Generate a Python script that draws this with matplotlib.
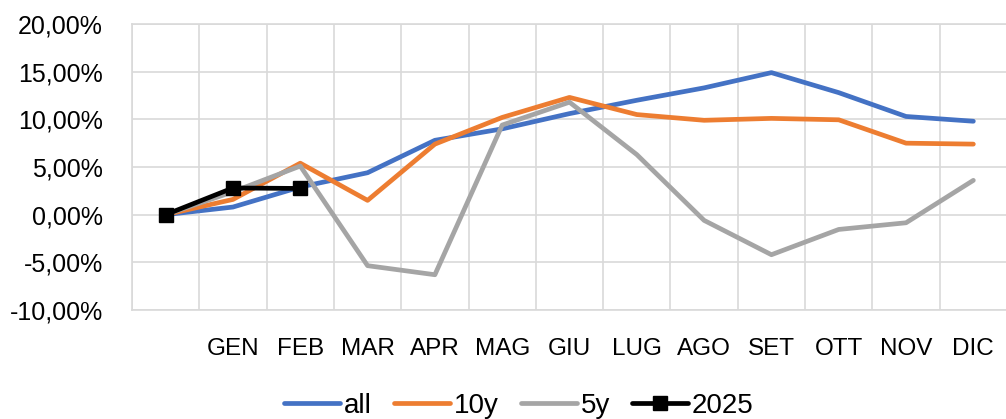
import matplotlib
matplotlib.use("Agg")
import matplotlib.pyplot as plt
from matplotlib import font_manager

# Monthly cumulative returns (%), first point is the year start
months = ["", "GEN", "FEB", "MAR", "APR", "MAG", "GIU", "LUG", "AGO", "SET", "OTT", "NOV", "DIC"]
all_years = [0.0, 0.8, 2.9, 4.4, 7.8, 9.0, 10.6, 12.0, 13.3, 14.9, 12.8, 10.3, 9.8]
last_10y = [0.0, 1.6, 5.4, 1.5, 7.4, 10.2, 12.3, 10.5, 9.9, 10.1, 9.95, 7.5, 7.4]
last_5y = [0.0, 2.4, 5.1, -5.35, -6.3, 9.4, 11.8, 6.3, -0.6, -4.2, -1.55, -0.85, 3.6]
year_2025 = [0.0, 2.8, 2.75]
series_names = ["all", "10y", "5y", "2025"]
y_ticks = [-10, -5, 0, 5, 10, 15, 20]

available = {f.name for f in font_manager.fontManager.ttflist}
family = "Liberation Sans" if "Liberation Sans" in available else "DejaVu Sans"
plt.rcParams["font.family"] = [family, "DejaVu Sans"]
legend_font = {"family": family, "size": 20}

fig = plt.figure(figsize=(10.06, 4.19), dpi=100)
ax = fig.add_axes([132 / 1006, 1 - 310 / 419, 875 / 1006, 286 / 419])

grid_col = "#D9D9D9"
x = list(range(len(months)))
kw = dict(linewidth=3.4, solid_joinstyle="round", solid_capstyle="round")
ax.plot(x, all_years, color="#4472C4", label=series_names[0], **kw)
ax.plot(x, last_10y, color="#ED7D31", label=series_names[1], **kw)
ax.plot(x, last_5y, color="#A5A5A5", label=series_names[2], **kw)
ax.plot(x[:len(year_2025)], year_2025, color="black", marker="s", markersize=10,
        label=series_names[3], **kw)

ax.set_xlim(-0.5, len(months) - 0.5)
ax.set_ylim(min(y_ticks), max(y_ticks))
ax.set_yticks(y_ticks)
ax.set_yticklabels([f"{v:.2f}%".replace(".", ",") for v in y_ticks])
ax.set_xticks(x)
ax.set_xticklabels(months)
ax.set_xticks([i - 0.5 for i in range(len(months) + 1)], minor=True)

ax.grid(True, which="major", axis="y", color=grid_col, linewidth=1.2)
ax.grid(True, which="minor", axis="x", color=grid_col, linewidth=1.2)
ax.grid(False, which="major", axis="x")
ax.set_axisbelow(True)
for s in ax.spines.values():
    s.set_color(grid_col)
    s.set_linewidth(1.2)

ax.tick_params(axis="both", which="both", length=0)
ax.tick_params(axis="y", labelsize=18, pad=21, labelcolor="#000000")
ax.tick_params(axis="x", labelsize=17.5, pad=20, labelcolor="#000000")

fig.legend(loc="center", bbox_to_anchor=(0.516, 0.032), ncol=4, frameon=False,
           prop=legend_font, handlelength=2.0, handletextpad=0.15, columnspacing=0.8)

fig.savefig("out.png", dpi=100)
